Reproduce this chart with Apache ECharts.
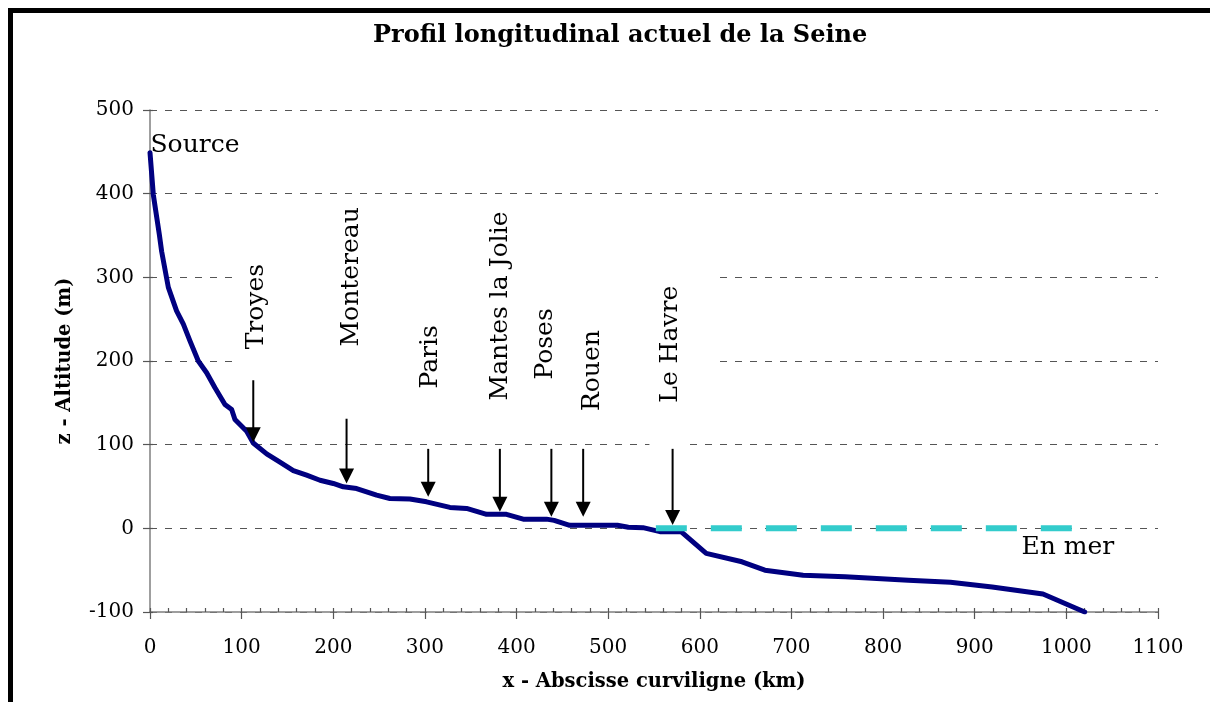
<!DOCTYPE html>
<html><head><meta charset="utf-8">
<script src="https://cdn.jsdelivr.net/npm/echarts@6/dist/echarts.min.js"></script>
<style>html,body{margin:0;padding:0;background:#fff}#c{width:1210px;height:702px}</style>
</head><body><div id="c"></div>
<script>
// River profile (km, m)
const riverKm  = [0, 3.6, 10.2, 12.7, 20, 29, 36.4, 43.6, 52.7, 61.8, 70.9, 81.8, 89.1, 92.7, 105.5, 112.7, 127.3, 141.8, 156.4, 170.9, 185.5, 200, 210.9, 225.5, 247.3, 261.8, 283.6, 301.8, 327.3, 345.5, 367.3, 389, 407.3, 432.7, 441, 458, 491, 510, 522, 538, 556.5, 579.5, 607, 646, 671, 712.7, 758.6, 827.5, 873.5, 919, 974.5, 1020];
const riverAlt = [449, 399, 351, 331, 288, 260, 244, 224, 200, 186, 168, 148, 142, 130, 116, 102, 89, 79, 69, 63.5, 57.5, 53.6, 49.6, 47.6, 39.7, 35.7, 35, 31.7, 25, 23.8, 16.7, 16.7, 11, 11, 9.5, 3.6, 3.6, 3.6, 1.2, 0.8, -4, -4, -30, -40, -50, -56, -58, -62, -64.5, -70, -78.5, -100];
// Sea level
const seaKm  = [552, 1007];
const seaAlt = [0, 0];
// Place annotations
const placeNames = ['Troyes', 'Montereau', 'Paris', 'Mantes la Jolie', 'Poses', 'Rouen', 'Le Havre'];
const labelKm    = [116, 220, 306.5, 383, 432, 483.3, 567.6];
const labelAlt   = [265, 300.6, 205, 265.8, 220.4, 188.5, 220];
const arrowKm    = [112.7, 214.5, 303.6, 381.8, 438, 472.7, 570.3];
const arrowTop   = [177, 131, 95, 95, 95, 95, 95];
const arrowTip   = [103, 53.6, 37.7, 19.8, 13.9, 13.9, 4];
// Free notes
const noteTexts = ['Source', 'En mer'];
const noteKm    = [0.5, 951];
const noteAlt   = [457, -23.5];
// Axes
const xMin = 0, xMax = 1100, xStep = 100, xMinorStep = 20;
const yMin = -100, yMax = 500, yStep = 100;
const titleText = 'Profil longitudinal actuel de la Seine';
const xName = 'x - Abscisse curviligne (km)';
const yName = 'z - Altitude (m)';

const SERIF = '"DejaVu Serif", serif';
const chart = echarts.init(document.getElementById('c'), null, {renderer: 'canvas'});
const axisGray = '#7f7f7f';
const plain = v => String(v);

chart.setOption({
  animation: false,
  backgroundColor: '#fff',
  title: {
    text: titleText, left: 368, top: 19,
    textStyle: {fontFamily: SERIF, fontWeight: 'bold', fontSize: 24, color: '#000'}
  },
  grid: {left: 150, right: 52, top: 110, bottom: 90, containLabel: false},
  xAxis: [{
    type: 'value', min: xMin, max: xMax, interval: xStep, position: 'bottom',
    name: xName, nameLocation: 'middle', nameGap: 60,
    nameTextStyle: {fontFamily: SERIF, fontWeight: 'bold', fontSize: 19.5, color: '#000'},
    axisLine: {show: true, onZero: false, lineStyle: {color: axisGray, width: 1.5}},
    axisTick: {show: true, inside: false, length: 7, lineStyle: {color: '#555', width: 1.2}},
    axisLabel: {fontFamily: SERIF, fontSize: 20, color: '#000', margin: 26, formatter: plain},
    splitLine: {show: false}
  }, {
    type: 'value', min: xMin, max: xMax, interval: xMinorStep, position: 'bottom',
    axisLine: {show: false, onZero: false},
    axisTick: {show: true, inside: true, length: 4, lineStyle: {color: '#555', width: 1.2}},
    axisLabel: {show: false}, splitLine: {show: false}
  }],
  yAxis: [{
    type: 'value', min: yMin, max: yMax, interval: yStep, position: 'left',
    name: yName, nameLocation: 'middle', nameGap: 75, nameRotate: 90,
    nameTextStyle: {fontFamily: SERIF, fontWeight: 'bold', fontSize: 19.5, color: '#000'},
    axisLine: {show: true, onZero: false, lineStyle: {color: axisGray, width: 1.5}},
    axisTick: {show: true, inside: false, length: 7, lineStyle: {color: '#555', width: 1.2}},
    axisLabel: {fontFamily: SERIF, fontSize: 20, color: '#000', margin: 16, formatter: plain},
    splitLine: {show: true, lineStyle: {color: '#555', width: 1, type: [7, 8]}}
  }, {
    type: 'value', min: yMin, max: yMax, interval: yStep, position: 'left',
    axisLine: {show: false, onZero: false},
    axisTick: {show: true, inside: true, length: 3, lineStyle: {color: '#555', width: 1.2}},
    axisLabel: {show: false}, splitLine: {show: false}
  }],
  graphic: [{
    type: 'line', z: 100, silent: true,
    shape: {x1: 8, y1: 10.5, x2: 1210, y2: 10.5},
    style: {stroke: '#000', lineWidth: 5}
  }, {
    type: 'line', z: 100, silent: true,
    shape: {x1: 10.5, y1: 8, x2: 10.5, y2: 702},
    style: {stroke: '#000', lineWidth: 5}
  }],
  series: [{
    type: 'line', name: 'cover', z: 1, silent: true,
    data: [],
    markArea: {
      silent: true,
      itemStyle: {color: '#fff', opacity: 1, borderWidth: 0},
      data: [
        [{coord: [92, 345]}, {coord: [622, 160]}],
        [{coord: [545, 105]}, {coord: [589, 95]}]
      ]
    }
  }, {
    type: 'line', name: 'Seine', z: 3,
    data: riverKm.map((k, i) => [k, riverAlt[i]]),
    showSymbol: false, symbol: 'none', smooth: false,
    lineStyle: {color: '#000080', width: 5, cap: 'round', join: 'round'}
  }, {
    type: 'line', name: 'Mer', z: 4,
    data: seaKm.map((k, i) => [k, seaAlt[i]]),
    showSymbol: false, symbol: 'none',
    lineStyle: {color: '#33CCCC', width: 6, type: [31, 24], cap: 'butt'}
  }, {
    type: 'custom', name: 'arrows', z: 5,
    data: arrowKm.map((k, i) => [k, arrowTop[i], arrowTip[i]]),
    encode: {x: 0, y: [1, 2]},
    renderItem: function (params, api) {
      const top = api.coord([api.value(0), api.value(1)]);
      const tip = api.coord([api.value(0), api.value(2)]);
      const hw = 7.5, hh = 15;
      return {type: 'group', children: [
        {type: 'line', shape: {x1: top[0], y1: top[1], x2: tip[0], y2: tip[1] - hh + 1},
         style: {stroke: '#000', lineWidth: 2}},
        {type: 'polygon', shape: {points: [[tip[0] - hw, tip[1] - hh], [tip[0] + hw, tip[1] - hh], [tip[0], tip[1]]]},
         style: {fill: '#000'}}
      ]};
    }
  }, {
    type: 'custom', name: 'places', z: 6,
    data: labelKm.map((k, i) => [k, labelAlt[i]]),
    encode: {x: 0, y: 1},
    renderItem: function (params, api) {
      const p = api.coord([api.value(0), api.value(1)]);
      return {type: 'text', x: p[0], y: p[1], rotation: Math.PI / 2,
        style: {text: placeNames[params.dataIndex], font: '25px ' + SERIF, fill: '#000',
          align: 'center', verticalAlign: 'middle'}};
    }
  }, {
    type: 'custom', name: 'notes', z: 6,
    data: noteKm.map((k, i) => [k, noteAlt[i]]),
    encode: {x: 0, y: 1},
    renderItem: function (params, api) {
      const p = api.coord([api.value(0), api.value(1)]);
      return {type: 'text', x: p[0], y: p[1],
        style: {text: noteTexts[params.dataIndex], font: '25px ' + SERIF, fill: '#000',
          align: 'left', verticalAlign: 'middle'}};
    }
  }]
});
</script></body></html>
